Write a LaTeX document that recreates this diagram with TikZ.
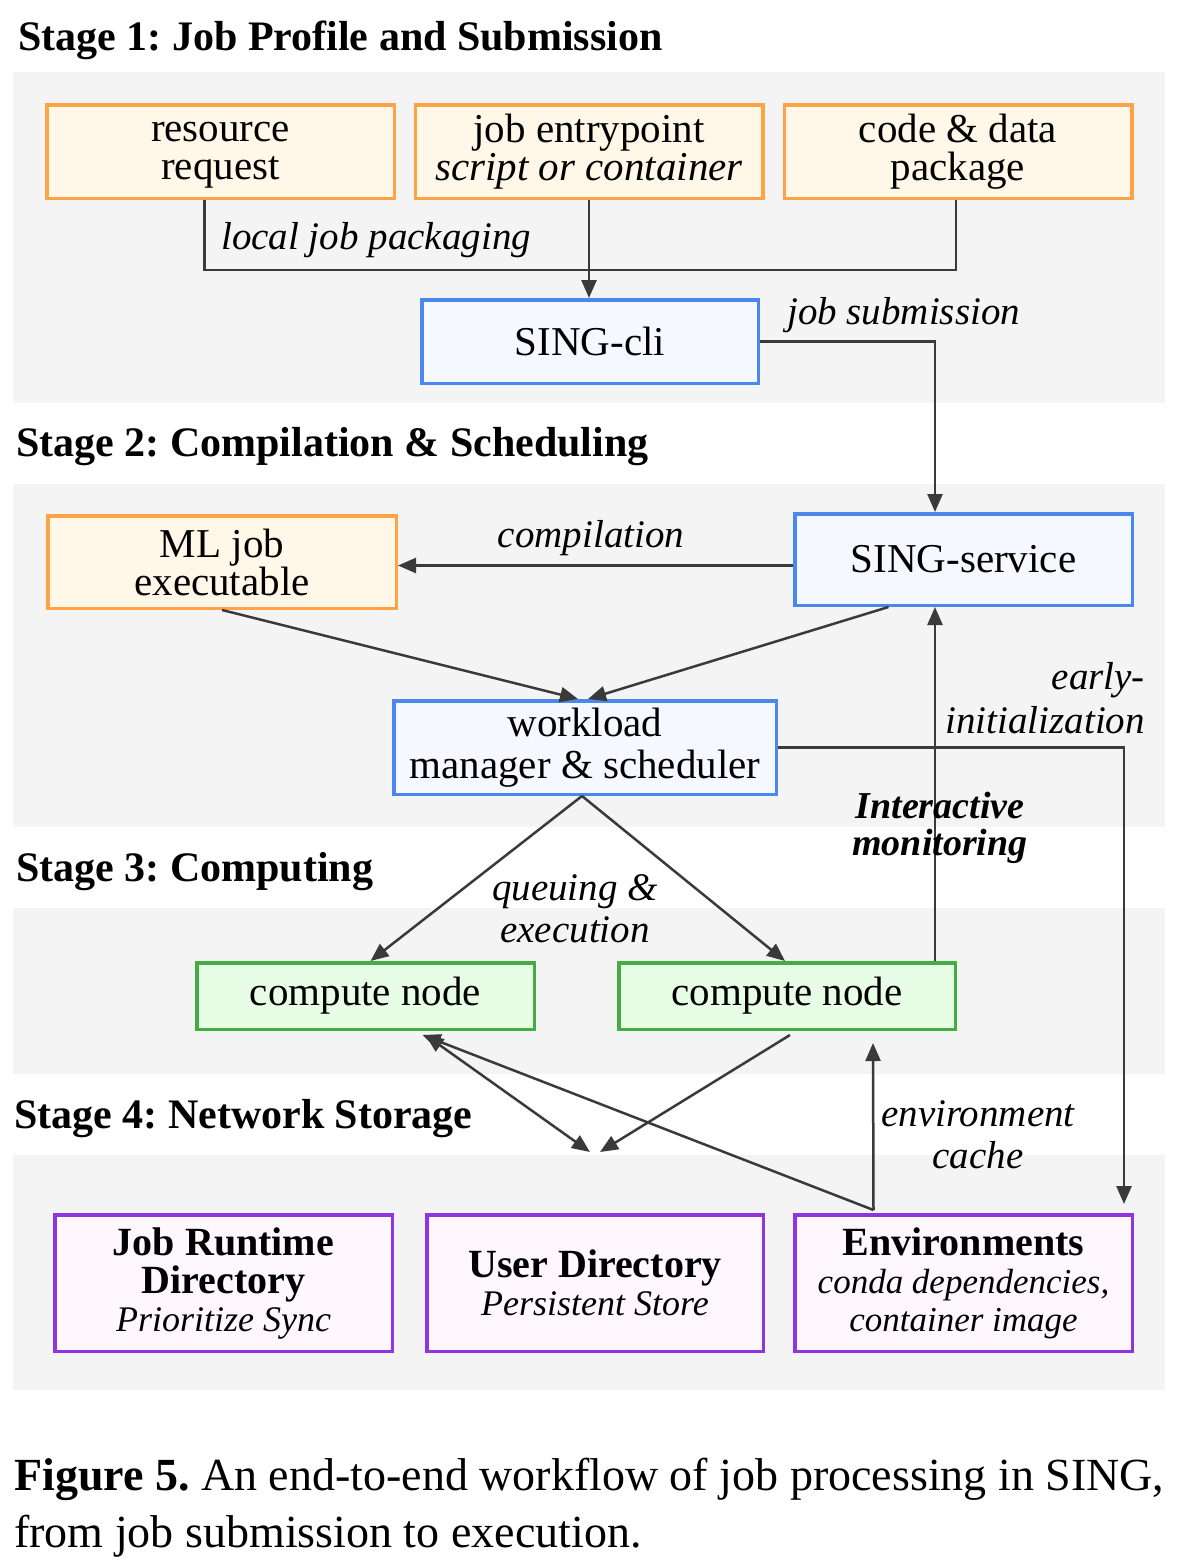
\documentclass[tikz,border=0pt]{standalone}
\usepackage{fontspec}
\setmainfont{Liberation Serif}
\usetikzlibrary{arrows.meta,calc}
\definecolor{bandC}{HTML}{F4F4F4}
\definecolor{orangeB}{HTML}{FFA347}
\definecolor{orangeF}{HTML}{FFF8E8}
\definecolor{blueB}{HTML}{4A88EE}
\definecolor{blueF}{HTML}{F5F8FE}
\definecolor{greenB}{HTML}{43AC43}
\definecolor{greenF}{HTML}{E8FDE6}
\definecolor{purpB}{HTML}{8E35E0}
\definecolor{purpF}{HTML}{FEF7FE}
\definecolor{arrowC}{HTML}{3A3A3A}
\frenchspacing
\begin{document}
\begin{tikzpicture}[x=1pt,y=-1pt,
  box/.style={draw, line width=3.5pt, inner sep=0pt, align=center, font=\fontsize{41}{38}\selectfont},
  obox/.style={box, draw=orangeB, fill=orangeF},
  bbox/.style={box, draw=blueB, fill=blueF},
  gbox/.style={box, draw=greenB, fill=greenF},
  pbox/.style={box, draw=purpB, fill=purpF},
  lab/.style={font=\fontsize{39}{42}\selectfont\itshape, inner sep=0pt, align=center},
  stagetitle/.style={font=\fontsize{42}{44}\selectfont\bfseries, inner sep=0pt, anchor=base west},
  ln/.style={line width=2.5pt, draw=arrowC},
  arr/.style={ln, -{Triangle[length=18pt,width=15pt]}},
  darr/.style={ln, {Triangle[length=18pt,width=15pt]}-{Triangle[length=18pt,width=15pt]}},
]
\useasboundingbox (0,0) rectangle (1194,1561);
% bands
\fill[bandC] (13,72) rectangle (1165,403);
\fill[bandC] (13,484) rectangle (1165,827);
\fill[bandC] (13,908) rectangle (1165,1074);
\fill[bandC] (13,1155) rectangle (1165,1390);
% stage titles
\node[stagetitle] (t1) at (18,50) {Stage 1: Job Profile and Submission};
\node[stagetitle] (t2) at (16,456) {Stage 2: Compilation \& Scheduling};
\node[stagetitle] (t3) at (16,881) {Stage 3: Computing};
\node[stagetitle] (t4) at (14,1128) {Stage 4: Network Storage};
% stage 1 nodes
\node[obox, minimum width=347.5, minimum height=93.5] (rr) at (220.5,151.5) {\strut resource\\request};
\node[obox, minimum width=347.5, minimum height=93.5] (je) at (589,151.5) {job entrypoint\\{\itshape script or container}};
\node[obox, minimum width=347.5, minimum height=93.5] (cd) at (958,151.5) {code \& data\\package};
\node[bbox, minimum width=336.5, minimum height=83.5] (cli) at (590,341.5) {SING-cli};
% stage 2 nodes
\node[obox, minimum width=348.5, minimum height=92.5] (ml) at (222,562) {ML job\\executable};
\node[bbox, minimum width=337.5, minimum height=91.5] (ss) at (963.5,559.5) {SING-service};
\node[bbox, minimum width=382.5, minimum height=93.5, font=\fontsize{41}{42}\selectfont] (wm) at (585,747.5) {workload\\manager \& scheduler};
% stage 3 nodes
\node[gbox, minimum width=337.5, minimum height=66.5] (cn1) at (365.5,996) {compute node};
\node[gbox, minimum width=336.5, minimum height=66.5] (cn2) at (787,996) {compute node};
% stage 4 nodes
\node[pbox, minimum width=337.5, minimum height=136.5] (jr) at (223.5,1283)
  {{\fontsize{40}{43}\selectfont\bfseries Job Runtime}\\{\fontsize{40}{43}\selectfont\bfseries Directory}\\{\fontsize{36}{43}\selectfont\itshape Prioritize Sync}};
\node[pbox, minimum width=336.5, minimum height=136.5] (ud) at (595,1283)
  {{\fontsize{40}{42}\selectfont\bfseries User Directory}\\{\fontsize{36}{42}\selectfont\itshape Persistent Store}};
\node[pbox, minimum width=337.5, minimum height=136.5] (env) at (963.5,1283)
  {{\fontsize{40}{40}\selectfont\bfseries Environments}\\{\fontsize{35}{40}\selectfont\itshape conda dependencies,}\\{\fontsize{35}{40}\selectfont\itshape container image}};
% connectors stage 1
\draw[ln] ([xshift=-16pt]rr.south) -- ++(0,70) -| ([xshift=-2pt]cd.south);
\draw[arr] (je.south) -- (je.south |- cli.north);
\node[lab, anchor=west] (l1) at (221,240) {local job packaging};
\draw[arr] (cli.east) -| ([xshift=-28.5pt]ss.north);
\node[lab, anchor=west] (l2) at (787,315) {job submission};
% stage 2
\draw[arr] ([yshift=-6pt]ss.west) -- ([yshift=-6pt]ss.west -| ml.east);
\node[lab] (l3) at (591,538) {compilation};
\draw[arr] (ml.south) -- ([xshift=-7pt]wm.north);
\draw[arr] ([xshift=-75pt]ss.south) -- ([xshift=3pt]wm.north);
\draw[arr] (wm.east) -| ([xshift=-10pt,yshift=9pt]env.north east);
\node[lab, anchor=east] (l4a) at (1145,680) {early-};
\node[lab, anchor=east] (l4b) at (1145,720) {initialization};
\draw[arr] ([xshift=148pt]cn2.north) -- ([xshift=-28.5pt]ss.south);
\node[lab, font=\fontsize{38}{37}\selectfont\bfseries\itshape] (l5) at (940,828) {Interactive\\monitoring};
% stage 3
\draw[arr] ([xshift=-3pt]wm.south) -- ([xshift=5pt]cn1.north);
\draw[arr] ([xshift=-3pt]wm.south) -- ([xshift=-2pt]cn2.north);
\node[lab] (l6) at (575,909) {queuing \&\\execution};
% stage 4
\coordinate (st1) at (590,1152);
\coordinate (st2) at (600,1152);
\draw[darr] ([xshift=60pt,yshift=-4pt]cn1.south) -- (st1);
\draw[arr] ([xshift=3pt,yshift=-4pt]cn2.south) -- (st2);
\draw[arr] ([xshift=-90pt,yshift=3pt]env.north) -- ([xshift=57pt,yshift=-4pt]cn1.south);
\draw[arr] ([xshift=-90pt,yshift=3pt]env.north) -- ([xshift=86pt,yshift=-12pt]cn2.south);
\node[lab] (l7) at (978,1135) {environment\\cache};
% caption
\node[inner sep=0pt, anchor=base west, font=\fontsize{46}{50}\selectfont] (cap1) at (14,1490) {\textbf{Figure 5.} An end-to-end workflow of job processing in SING,};
\node[inner sep=0pt, anchor=base west, font=\fontsize{46}{50}\selectfont] (cap2) at (14,1547) {from job submission to execution.};
\end{tikzpicture}
\end{document}
